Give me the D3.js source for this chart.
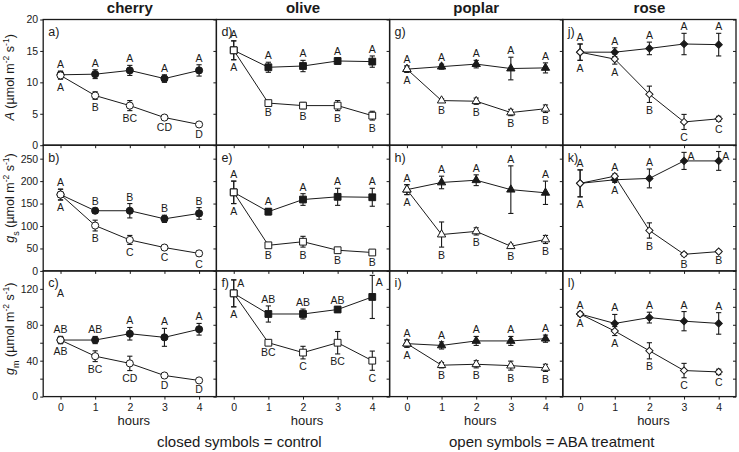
<!DOCTYPE html>
<html><head><meta charset="utf-8">
<script src="https://cdn.jsdelivr.net/npm/d3@7"></script>
<style>
body{margin:0;background:#fff}
svg{display:block}
text{font-family:"Liberation Sans",Arial,sans-serif;fill:#1a1a1a}
</style>
</head><body>
<svg id="chart" width="739" height="452"></svg>
<script>
// ---------------- data ----------------
const species = ["cherry", "olive", "poplar", "rose"];
const hours = [0, 1, 2, 3, 4];
const panelTags = [["a)", "b)", "c)"], ["d)", "e)", "f)"], ["g)", "h)", "i)"], ["j)", "k)", "l)"]];

const yTicksA  = [0, 5, 10, 15, 20];
const yTicksGs = [0, 50, 100, 150, 200, 250];
const yTicksGm = [0, 20, 40, 60, 80, 100, 120];
const yLabeledGm = [0, 40, 80, 120];

// net assimilation A (µmol m-2 s-1), rows = species
const A_control    = [[11.2, 11.3, 11.9, 10.6, 11.9], [15.1, 12.4, 12.6, 13.4, 13.3], [12.1, 12.5, 12.9, 12.2, 12.3], [14.8, 14.8, 15.4, 16.1, 16.0]];
const A_controlErr = [[0.6, 0.7, 0.8, 0.6, 0.9], [1.5, 0.8, 0.9, 0.5, 0.9], [0.5, 0.4, 0.6, 1.8, 0.8], [1.3, 0.7, 1.0, 1.7, 1.8]];
const A_aba        = [[11.1, 7.9, 6.3, 4.4, 3.3], [15.1, 6.7, 6.3, 6.3, 4.7], [12.1, 7.1, 7.0, 5.2, 5.8], [14.8, 13.7, 8.1, 3.7, 4.2]];
const A_abaErr     = [[0.6, 0.6, 0.8, 0.3, 0.3], [1.5, 0.3, 0.5, 0.8, 0.7], [0.5, 0.3, 0.5, 0.5, 0.6], [1.3, 0.8, 1.3, 1.2, 0.4]];
const A_controlLetters = [["A","A","A","A","A"], ["A","A","A","A","A"], ["A","A","A","A","A"], ["A","A","A","A","A"]];
const A_abaLetters     = [["A","B","BC","CD","D"], ["A","B","B","B","B"], ["A","B","B","B","B"], ["A","A","B","C","C"]];

// stomatal conductance gs
const gs_control    = [[170, 134, 134, 116, 128], [175, 132, 159, 165, 164], [181, 197, 202, 181, 174], [195, 203, 206, 245, 245]];
const gs_controlErr = [[12, 6, 16, 8, 13], [25, 7, 13, 19, 20], [11, 14, 12, 53, 26], [30, 6, 21, 19, 21]];
const gs_aba        = [[170, 101, 69, 52, 39], [175, 57, 65, 46, 41], [181, 81, 88, 55, 70], [195, 211, 90, 37, 43]];
const gs_abaErr     = [[12, 12, 10, 5, 6], [25, 4, 12, 5, 4], [11, 28, 8, 5, 9], [30, 5, 17, 4, 3]];
const gs_controlLetters = [["A","B","B","B","B"], ["A","A","A","A","A"], ["A","A","A","A","A"], ["A","A","A","A","A"]];
const gs_abaLetters     = [["A","B","C","C","C"], ["A","B","B","B","B"], ["A","B","B","B","B"], ["A","A","B","B","B"]];

// mesophyll conductance gm
const gm_control    = [[63, 63, 70, 66, 75], [115, 92, 92, 97, 111], [59, 57, 62, 62, 64.5], [92, 81.5, 88, 84, 81.5]];
const gm_controlErr = [[4, 4, 7, 10, 6.5], [15, 9, 5.5, 3, 24], [4, 4, 5, 5, 4], [2, 10, 6, 10.7, 12]];
const gm_aba        = [[63, 45, 37, 23.5, 18], [115, 60, 49, 60, 40], [59, 35, 36, 34.5, 32], [92, 73, 51, 29, 27.5]];
const gm_abaErr     = [[4, 6, 8, 2, 1.5], [15, 2, 7, 12.5, 10.7], [4, 3, 4, 5, 4], [2, 5, 9, 8, 3]];
const gm_controlLetters = [["AB","AB","A","A","A"], ["A","AB","AB","AB","A"], ["A","A","A","A","A"], ["A","A","A","A","A"]];
const gm_abaLetters     = [["AB","BC","CD","D","D"], ["A","BC","C","BC","C"], ["A","B","B","B","B"], ["A","A","B","C","C"]];

// letters placed to the right of the upper whisker: [species, row, hour]
const rightLetters = [[3, 1, 3], [3, 1, 4], [1, 2, 0], [1, 2, 4]];
// stray letter in panel c: [species, row, hour, value, text]
const extraLetters = [[0, 2, 0, 111, "A"]];

// ---------------- layout ----------------
const svg = d3.select("#chart");
const leftX = 43.2, topY = 19.5, colW = 173.2, rowH = 125.7;
const ink = "#1a1a1a";

const rows = [
  {ctrl: A_control, ctrlErr: A_controlErr, aba: A_aba, abaErr: A_abaErr, cl: A_controlLetters, al: A_abaLetters,
   max: 20, ticks: yTicksA, labeled: yTicksA},
  {ctrl: gs_control, ctrlErr: gs_controlErr, aba: gs_aba, abaErr: gs_abaErr, cl: gs_controlLetters, al: gs_abaLetters,
   max: 280, ticks: yTicksGs, labeled: yTicksGs},
  {ctrl: gm_control, ctrlErr: gm_controlErr, aba: gm_aba, abaErr: gm_abaErr, cl: gm_controlLetters, al: gm_abaLetters,
   max: 140, ticks: yTicksGm, labeled: yLabeledGm}
];

const symbolTypes = [d3.symbolCircle, d3.symbolSquare, d3.symbolTriangle, d3.symbolSquare];
const symbolSizes = [40, 46, 30, 26];
const symbolRot = [0, 0, 0, 45];

const x = d3.scaleLinear().domain([-0.5, 4.5]).range([0, colW]);

// column titles
species.forEach((s, c) => {
  svg.append("text").attr("x", leftX + colW * c + colW / 2).attr("y", 12.5)
    .attr("text-anchor", "middle").attr("font-size", 15).attr("font-weight", "bold").text(s);
});

rows.forEach((row, r) => {
  const y = d3.scaleLinear().domain([0, row.max]).range([rowH, 0]);
  species.forEach((s, c) => {
    const g = svg.append("g").attr("transform", `translate(${leftX + colW * c},${topY + rowH * r})`);
    const ctrl = row.ctrl[c], ctrlE = row.ctrlErr[c], aba = row.aba[c], abaE = row.abaErr[c];

    // axes
    const yAxis = d3.axisLeft(y).tickValues(row.ticks).tickSize(3).tickPadding(2)
      .tickFormat(v => (c === 0 && row.labeled.includes(v)) ? v : "");
    const ya = g.append("g").call(yAxis);
    ya.select(".domain").remove();
    ya.selectAll("line").attr("stroke", ink);
    ya.selectAll("text").attr("font-size", 10.5).attr("fill", ink).style("font-family", "Liberation Sans, Arial, sans-serif");
    if (c === species.length - 1) {
      const yr = g.append("g").attr("transform", `translate(${colW},0)`)
        .call(d3.axisLeft(y).tickValues(row.ticks).tickSize(3).tickFormat(""));
      yr.select(".domain").remove();
      yr.selectAll("line").attr("stroke", ink);
    }
    const xAxis = d3.axisBottom(x).tickValues(hours).tickSize(3).tickPadding(4)
      .tickFormat(v => r === rows.length - 1 ? v : "");
    const xa = g.append("g").attr("transform", `translate(0,${rowH})`).call(xAxis);
    xa.select(".domain").remove();
    xa.selectAll("line").attr("stroke", ink);
    xa.selectAll("text").attr("font-size", 10.5).attr("fill", ink).style("font-family", "Liberation Sans, Arial, sans-serif");

    // lines
    const line = d3.line().x((d, i) => x(hours[i])).y(d => y(d));
    g.append("path").datum(ctrl).attr("d", line).attr("fill", "none").attr("stroke", ink).attr("stroke-width", 1);
    g.append("path").datum(aba).attr("d", line).attr("fill", "none").attr("stroke", ink).attr("stroke-width", 1);

    // error bars
    const drawErr = (vals, errs) => {
      vals.forEach((v, i) => {
        const cx = x(hours[i]), y1 = y(v + errs[i]), y2 = y(Math.max(0, v - errs[i]));
        g.append("line").attr("x1", cx).attr("x2", cx).attr("y1", y1).attr("y2", y2).attr("stroke", ink).attr("stroke-width", 1.1);
        [y1, y2].forEach(yy => g.append("line").attr("x1", cx - 2.6).attr("x2", cx + 2.6).attr("y1", yy).attr("y2", yy)
          .attr("stroke", ink).attr("stroke-width", 1.1));
      });
    };
    drawErr(ctrl, ctrlE);
    drawErr(aba, abaE);

    // markers
    const sym = d3.symbol().type(symbolTypes[c]).size(symbolSizes[c]);
    const drawMarks = (vals, fill) => {
      vals.forEach((v, i) => {
        g.append("path").attr("d", sym())
          .attr("transform", `translate(${x(hours[i])},${y(v)}) rotate(${symbolRot[c]})`)
          .attr("fill", fill).attr("stroke", ink).attr("stroke-width", 1);
      });
    };
    drawMarks(ctrl, ink);
    drawMarks(aba, "#fff");

    // significance letters
    const isRight = (i) => rightLetters.some(d => d[0] === c && d[1] === r && d[2] === i);
    const putLetter = (txt, v, e, i, upper, series) => {
      const cx = x(hours[i]);
      const t = g.append("text").attr("font-size", 10.5).text(txt);
      if (series === "ctrl" && isRight(i)) {
        t.attr("x", cx + 3.5).attr("y", Math.max(y(v + e) + 7, 15)).attr("text-anchor", "start");
      } else if (upper) {
        t.attr("x", cx).attr("y", y(v + e) - 3).attr("text-anchor", "middle");
      } else {
        t.attr("x", cx).attr("y", y(v - e) + 11.5).attr("text-anchor", "middle");
      }
    };
    hours.forEach((h, i) => {
      const ctrlUpper = i === 0 || ctrl[i] >= aba[i];
      putLetter(row.cl[c][i], ctrl[i], ctrlE[i], i, ctrlUpper, "ctrl");
      putLetter(row.al[c][i], aba[i], abaE[i], i, !ctrlUpper, "aba");
    });
    extraLetters.filter(d => d[0] === c && d[1] === r).forEach(d => {
      g.append("text").attr("x", x(hours[d[2]])).attr("y", y(d[3])).attr("text-anchor", "middle")
        .attr("font-size", 10.5).text(d[4]);
    });

    // panel tag
    g.append("text").attr("x", 5).attr("y", 16.5).attr("font-size", 12.5).text(panelTags[c][r]);

    // frame
    g.append("rect").attr("width", colW).attr("height", rowH).attr("fill", "none")
      .attr("stroke", ink).attr("stroke-width", 1.3);
  });
});

// y-axis titles
const yTitle = (cy, main, sub) => {
  const t = svg.append("text").attr("transform", `translate(14,${cy}) rotate(-90)`)
    .attr("text-anchor", "middle").attr("font-size", 12.5);
  t.append("tspan").attr("font-style", "italic").text(main);
  if (sub) t.append("tspan").attr("baseline-shift", "sub").attr("font-size", 9).text(sub);
  t.append("tspan").text(" (µmol m");
  t.append("tspan").attr("baseline-shift", "super").attr("font-size", 8.5).text("-2");
  t.append("tspan").text(" s");
  t.append("tspan").attr("baseline-shift", "super").attr("font-size", 8.5).text("-1");
  t.append("tspan").text(")");
};
yTitle(topY + rowH * 0.46, "A", null);
yTitle(topY + rowH * 1.42, "g", "s");
yTitle(topY + rowH * 2.46, "g", "m");

// x-axis titles
species.forEach((s, c) => {
  svg.append("text").attr("x", leftX + colW * c + colW / 2 + 4).attr("y", topY + rowH * 3 + 28)
    .attr("text-anchor", "middle").attr("font-size", 13).text("hours");
});

// legend notes
svg.append("text").attr("x", 157).attr("y", 447).attr("font-size", 15).text("closed symbols = control");
svg.append("text").attr("x", 449).attr("y", 447).attr("font-size", 15).text("open symbols = ABA treatment");
</script>
</body></html>
